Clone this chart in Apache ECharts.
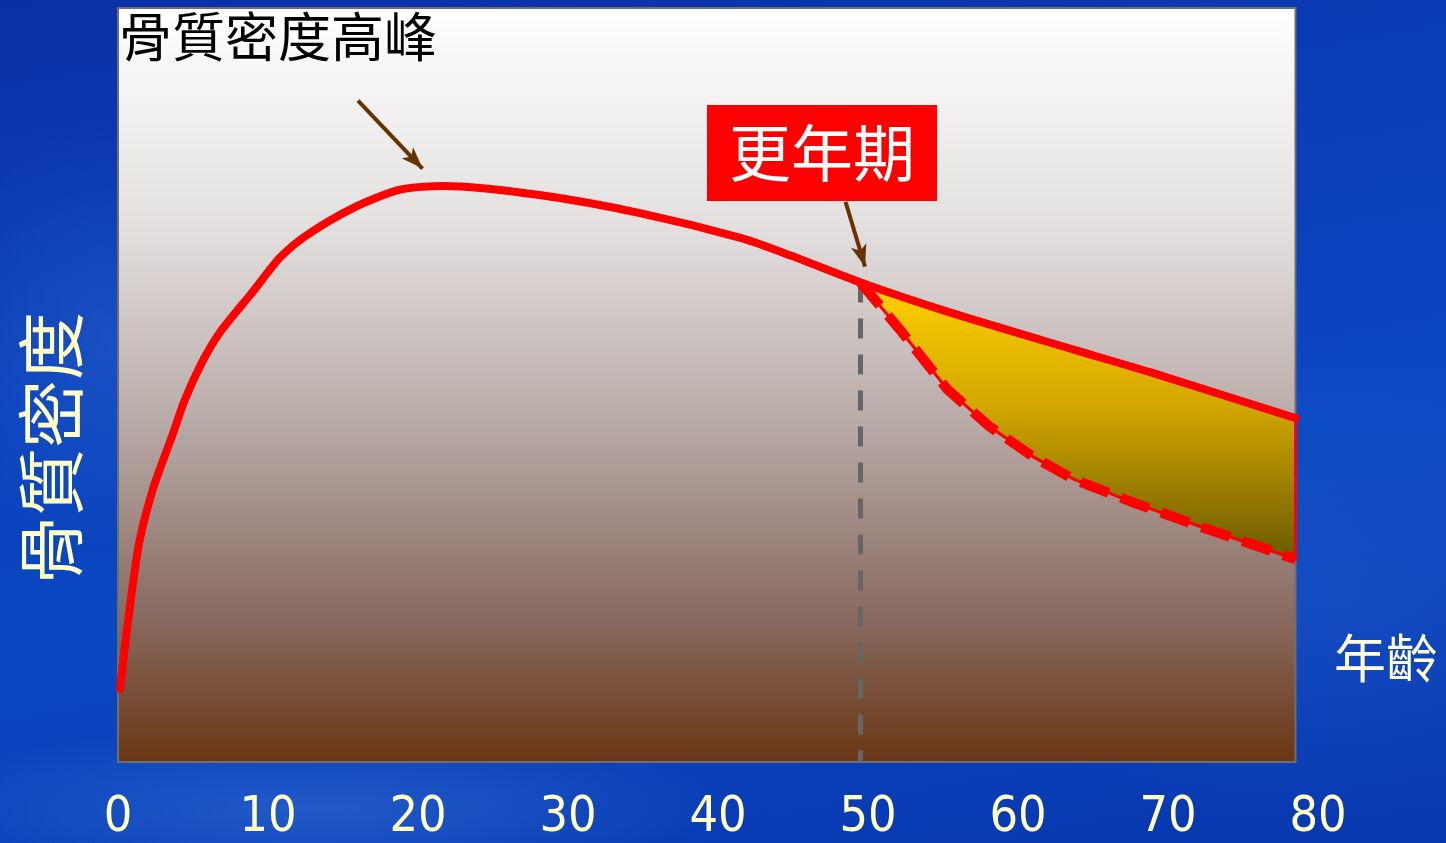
<!DOCTYPE html>
<html lang="zh-Hant">
<head>
    <meta charset="utf-8"/>
    <title>骨質密度</title>
    <script src="https://cdn.jsdelivr.net/npm/echarts@6/dist/echarts.min.js"></script>
    <style>
        html, body {
            margin: 0;
            padding: 0;
            overflow: hidden;
        }
        body {
            width: 1446px;
            height: 843px;
            background:
                radial-gradient(ellipse 30% 10% at 22% 96%, rgba(90, 150, 235, 0.3), transparent),
                radial-gradient(ellipse 25% 30% at 92% 70%, rgba(60, 120, 220, 0.2), transparent),
                radial-gradient(ellipse 15% 25% at 8% 40%, rgba(70, 130, 225, 0.25), transparent),
                linear-gradient(170deg, #0a30a6 0%, #0a40ba 35%, #0a48c2 60%, #0836ae 100%);
        }
        #main {
            width: 1446px;
            height: 843px;
        }
    </style>
</head>
<body>
<div id="main"></div>
<script>
    // 年齡刻度
    var xTicks = [0, 10, 20, 30, 40, 50, 60, 70, 80];

    // 骨質密度曲線 (年齡, 相對值)
    var curveAge = [0.13, 1.33, 2.33, 3.6, 4.47, 5.6, 6.8, 9.0, 10.8, 12.6, 15.7, 18.8, 21.7, 28.1, 34.8, 41.5, 44.8, 49.5, 55.5, 63.7, 68.8, 78.5];
    var curveBmd = [9.7, 28.2, 36.2, 43.2, 48.1, 53.0, 57.0, 62.4, 66.9, 69.9, 73.5, 75.9, 76.4, 75.2, 72.8, 69.5, 67.2, 63.6, 59.6, 54.7, 51.7, 45.6];

    // 更年期後快速流失 (虛線)
    var dropAge = [49.5, 52.1, 55.3, 58.1, 61.0, 63.7, 67.7, 72.6, 78.5];
    var dropBmd = [63.6, 57.4, 49.4, 44.5, 40.5, 37.5, 34.4, 30.9, 26.9];

    var menopauseAge = 49.5;
    var plotEndAge = 78.5;

    var curveData = curveAge.map(function (a, i) { return [a, curveBmd[i]]; });
    var dropData = dropAge.map(function (a, i) { return [a, dropBmd[i]]; });
    var upperPart = curveData.filter(function (p) { return p[0] >= menopauseAge; });

    var cjkFont = "'Noto Sans CJK TC', sans-serif";

    var chart = echarts.init(document.getElementById('main'));

    var option = {
        backgroundColor: 'transparent',
        animation: false,
        grid: {left: 118, right: 128, top: 8, bottom: 80},
        xAxis: {
            type: 'value',
            min: 0,
            max: 80,
            interval: 10,
            axisLine: {show: false},
            axisTick: {show: false},
            splitLine: {show: false},
            axisLabel: {
                margin: 31,
                color: '#FFFFC4',
                fontSize: 50,
                fontFamily: "'Liberation Sans Narrow', 'DejaVu Sans Condensed', sans-serif",
                formatter: function (v) { return xTicks.indexOf(v) >= 0 ? String(v) : ''; }
            }
        },
        yAxis: {
            type: 'value',
            min: 0,
            max: 100,
            show: false
        },
        graphic: [
            {
                type: 'text',
                x: 119,
                y: 10,
                z: 100,
                style: {
                    text: '骨質密度高峰',
                    fill: '#000',
                    fontSize: 53,
                    fontFamily: cjkFont
                }
            },
            {
                type: 'rect',
                x: 707,
                y: 105,
                z: 100,
                shape: {x: 0, y: 0, width: 230, height: 96},
                style: {fill: '#FF0000'}
            },
            {
                type: 'text',
                x: 822,
                y: 153,
                z: 101,
                style: {
                    text: '更年期',
                    fill: '#fff',
                    fontSize: 62,
                    align: 'center',
                    verticalAlign: 'middle',
                    fontFamily: cjkFont
                }
            },
            {
                type: 'text',
                x: 51,
                y: 448,
                rotation: Math.PI / 2,
                z: 100,
                style: {
                    text: '骨質密度',
                    fill: '#FFFFC8',
                    fontSize: 68,
                    align: 'center',
                    verticalAlign: 'middle',
                    fontFamily: cjkFont
                }
            },
            {
                type: 'text',
                x: 1334,
                y: 632,
                z: 100,
                style: {
                    text: '年齡',
                    fill: '#FFFFD8',
                    fontSize: 52,
                    fontFamily: cjkFont
                }
            }
        ],
        series: [
            {
                // 背景漸層區
                type: 'line',
                data: [],
                z: 1,
                silent: true,
                markArea: {
                    silent: true,
                    itemStyle: {
                        color: new echarts.graphic.LinearGradient(0, 0, 0, 1, [
                            {offset: 0, color: '#ffffff'},
                            {offset: 0.3, color: '#e2dede'},
                            {offset: 0.55, color: '#b8aaa6'},
                            {offset: 0.8, color: '#8a6c62'},
                            {offset: 1, color: '#6a3614'}
                        ]),
                        borderColor: '#6e6e6e',
                        borderWidth: 2
                    },
                    data: [[{coord: [0, 0]}, {coord: [plotEndAge, 100]}]]
                }
            },
            {
                // 流失區域填色
                type: 'custom',
                z: 3,
                silent: true,
                clip: false,
                data: [[menopauseAge, 0]],
                renderItem: function (params, api) {
                    var pts = [];
                    upperPart.forEach(function (p) { pts.push(api.coord(p)); });
                    dropData.slice().reverse().forEach(function (p) { pts.push(api.coord(p)); });
                    return {
                        type: 'polygon',
                        shape: {points: pts},
                        style: {
                            fill: new echarts.graphic.LinearGradient(0, 0, 0, 1, [
                                {offset: 0, color: '#FFD200'},
                                {offset: 0.45, color: '#D2A600'},
                                {offset: 1, color: '#6A5A00'}
                            ]),
                            stroke: '#FF0000',
                            lineWidth: 3
                        }
                    };
                }
            },
            {
                // 更年期分界
                type: 'line',
                z: 2,
                silent: true,
                symbol: 'none',
                data: [[menopauseAge, 63.6], [menopauseAge, 0]],
                lineStyle: {color: '#666666', width: 5, type: [20, 16]}
            },
            {
                type: 'line',
                z: 4,
                silent: true,
                symbol: 'none',
                data: dropData,
                lineStyle: {color: '#FF0000', width: 10, type: [30, 13], cap: 'butt'}
            },
            {
                type: 'line',
                z: 5,
                silent: true,
                symbol: 'none',
                smooth: 0.25,
                data: curveData,
                lineStyle: {color: '#FF0000', width: 8, cap: 'round'},
                markLine: {
                    silent: true,
                    symbol: ['none', 'arrow'],
                    symbolSize: [12, 22],
                    label: {show: false},
                    lineStyle: {color: '#663300', width: 4, type: 'solid'},
                    data: [
                        [{coord: [16, 87.7]}, {coord: [20.3, 78.7]}],
                        [{coord: [48.5, 74.3]}, {coord: [49.8, 65.7]}]
                    ]
                }
            }
        ]
    };

    chart.setOption(option);
</script>
</body>
</html>
